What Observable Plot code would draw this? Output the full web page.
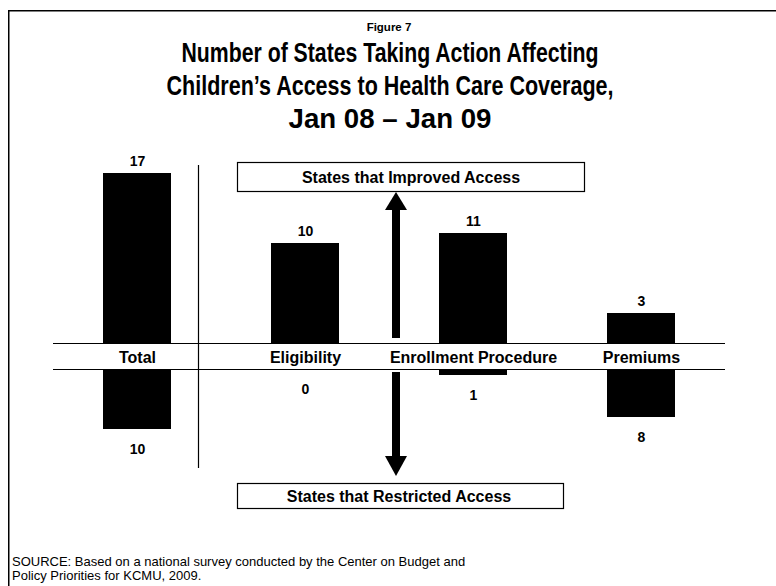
<!DOCTYPE html>
<html>
<head>
<meta charset="utf-8">
<script src="https://cdn.jsdelivr.net/npm/d3@7"></script>
<script src="https://cdn.jsdelivr.net/npm/@observablehq/plot@0.6"></script>
<style>
  html, body { margin: 0; padding: 0; background: #fff; overflow: hidden; }
  #wrap { position: relative; width: 776px; height: 586px; background: #fff; overflow: hidden;
          font-family: "Liberation Sans", Arial, Helvetica, sans-serif; color: #000; }
  .abs { position: absolute; left: 0; }
  svg text { font-family: "Liberation Sans", Arial, Helvetica, sans-serif; }
</style>
</head>
<body>
<div id="wrap"></div>
<script>
// ---- Data ----
const categories = ["Total", "Eligibility", "Enrollment Procedure", "Premiums"];
const improved   = [17, 10, 11, 3];
const restricted = [10, 0, 1, 8];
const figureLabel = "Figure 7";
const titleLines = [
  "Number of States Taking Action Affecting",
  "Children\u2019s Access to Health Care Coverage,",
  "Jan 08 \u2013 Jan 09"
];
const topBoxLabel = "States that Improved Access";
const bottomBoxLabel = "States that Restricted Access";
const sourceLines = [
  "SOURCE:  Based on a national survey conducted by the Center on Budget and",
  "Policy Priorities for KCMU, 2009."
];

const rows = categories.map((c, i) => ({category: c, improved: improved[i], restricted: restricted[i]}));
const wrap = document.getElementById("wrap");

// ---- Title (SVG text, condensed to the reference widths) ----
const tsvg = d3.select(wrap).append("svg").attr("class", "abs")
  .style("top", "0px").attr("width", 776).attr("height", 140);
tsvg.append("line").attr("x1", 8).attr("x2", 776).attr("y1", 10.75).attr("y2", 10.75)
  .attr("stroke", "#000").attr("stroke-width", 1.5);
tsvg.append("text").attr("x", 389).attr("y", 31).attr("text-anchor", "middle")
  .attr("font-size", 11.5).attr("font-weight", "bold").text(figureLabel);
const titleY = [62, 95, 128];
const titleW = [417, 447, 203];
titleLines.forEach((t, i) => {
  tsvg.append("text").attr("x", 390).attr("y", titleY[i]).attr("text-anchor", "middle")
    .attr("font-size", 27).attr("font-weight", "bold")
    .attr("textLength", titleW[i]).attr("lengthAdjust", "spacingAndGlyphs").text(t);
});

// ---- Shared x scale settings ----
const xScale = {domain: categories, paddingInner: 0.595, paddingOuter: 0.2975, axis: null};

// ---- Top plot: states that improved access ----
const topPlot = Plot.plot({
  width: 776, height: 219,
  marginLeft: 53, marginRight: 51, marginTop: 0, marginBottom: 26,
  style: {background: "transparent", overflow: "visible"},
  x: xScale,
  y: {domain: [0, 17], range: [193, 23], axis: null},
  marks: [
    Plot.barY(rows, {x: "category", y: "improved", fill: "#000"}),
    Plot.ruleY([0], {stroke: "#000", strokeWidth: 1.2}),
    Plot.text(rows, {x: "category", y: "improved", text: d => String(d.improved), dy: -12,
      fontSize: 14, fontWeight: "bold", fill: "#000"}),
    Plot.text(rows, {x: "category", text: "category", frameAnchor: "bottom", lineAnchor: "middle", dy: 14,
      fontSize: 16, fontWeight: "bold", fill: "#000"})
  ]
});
topPlot.style.position = "absolute";
topPlot.style.left = "0px";
topPlot.style.top = "150px";
wrap.appendChild(topPlot);

// ---- Bottom plot: states that restricted access ----
const bottomPlot = Plot.plot({
  width: 776, height: 218,
  marginLeft: 53, marginRight: 51, marginTop: 0, marginBottom: 0,
  style: {background: "transparent", overflow: "visible"},
  x: xScale,
  y: {domain: [0, 10], range: [1, 61], axis: null},
  marks: [
    Plot.barY(rows, {x: "category", y: "restricted", fill: "#000"}),
    Plot.ruleY([0], {stroke: "#000", strokeWidth: 1.2}),
    Plot.text(rows, {x: "category", y: "restricted", text: d => String(d.restricted), dy: 20,
      fontSize: 14, fontWeight: "bold", fill: "#000"})
  ]
});
bottomPlot.style.position = "absolute";
bottomPlot.style.left = "0px";
bottomPlot.style.top = "368px";
wrap.appendChild(bottomPlot);

// ---- Annotations overlay: frame, separator, arrows, boxes, source ----
const osvg = d3.select(wrap).append("svg").attr("class", "abs")
  .style("top", "0px").attr("width", 776).attr("height", 586)
  .style("pointer-events", "none");
osvg.append("line").attr("x1", 8.75).attr("x2", 8.75).attr("y1", 10).attr("y2", 586)
  .attr("stroke", "#000").attr("stroke-width", 1.5);
osvg.append("line").attr("x1", 198.5).attr("x2", 198.5).attr("y1", 165).attr("y2", 468)
  .attr("stroke", "#000").attr("stroke-width", 1.2);
// up arrow
osvg.append("rect").attr("x", 392).attr("y", 206).attr("width", 8).attr("height", 132).attr("fill", "#000");
osvg.append("path").attr("d", "M396,192 L407,210 L385,210 Z").attr("fill", "#000");
// down arrow
osvg.append("rect").attr("x", 392).attr("y", 372).attr("width", 8).attr("height", 86).attr("fill", "#000");
osvg.append("path").attr("d", "M385,456 L407,456 L396,476 Z").attr("fill", "#000");
// boxes
osvg.append("rect").attr("x", 237.5).attr("y", 162.5).attr("width", 347).attr("height", 29)
  .attr("fill", "#fff").attr("stroke", "#000").attr("stroke-width", 1.2);
osvg.append("text").attr("x", 411).attr("y", 183).attr("text-anchor", "middle")
  .attr("font-size", 16).attr("font-weight", "bold").text(topBoxLabel);
osvg.append("rect").attr("x", 237.5).attr("y", 483.5).attr("width", 326).attr("height", 25)
  .attr("fill", "#fff").attr("stroke", "#000").attr("stroke-width", 1.2);
osvg.append("text").attr("x", 399).attr("y", 502).attr("text-anchor", "middle")
  .attr("font-size", 16).attr("font-weight", "bold").text(bottomBoxLabel);
// source
sourceLines.forEach((s, i) => {
  osvg.append("text").attr("x", 12).attr("y", 566 + i * 14)
    .attr("font-size", 13).text(s);
});
</script>
</body>
</html>
